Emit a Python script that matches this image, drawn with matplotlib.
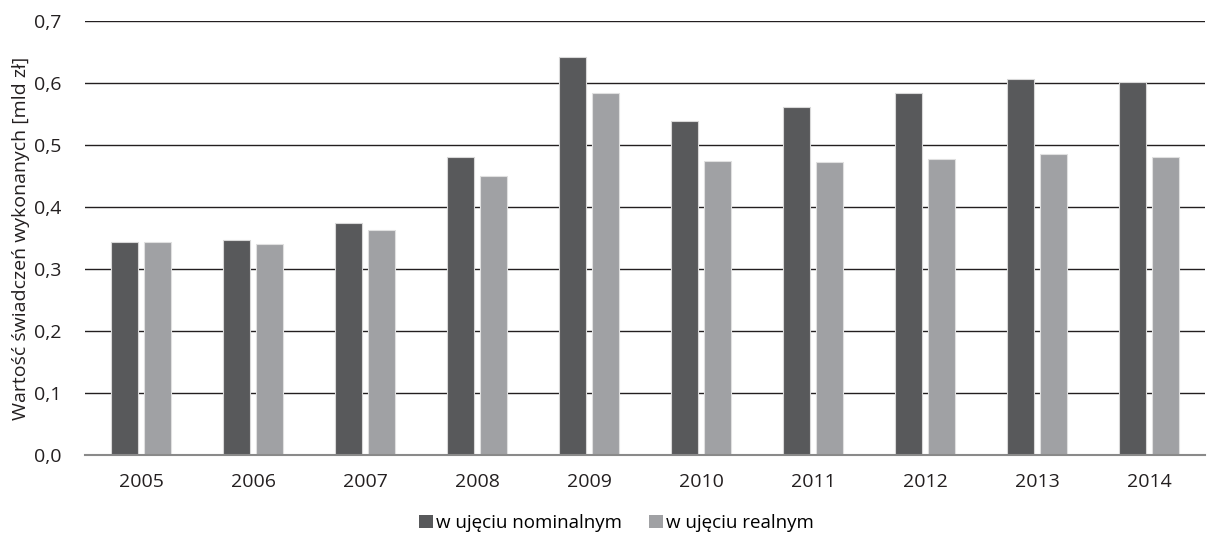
import numpy as np
import matplotlib
matplotlib.use("Agg")
import matplotlib.pyplot as plt
from matplotlib.ticker import FuncFormatter

plt.rcParams['font.family'] = ['Open Sans', 'DejaVu Sans']

years = ['2005', '2006', '2007', '2008', '2009', '2010', '2011', '2012', '2013', '2014']
nominal = [0.343, 0.347, 0.374, 0.481, 0.642, 0.539, 0.561, 0.584, 0.606, 0.601]
real = [0.343, 0.340, 0.363, 0.450, 0.584, 0.475, 0.472, 0.477, 0.486, 0.481]
labels = ['w ujęciu nominalnym', 'w ujęciu realnym']
colors = ['#58595b', '#a0a1a4']

fig = plt.figure(figsize=(12.21, 5.39), dpi=100)
ax = fig.add_axes([85 / 1221, 1 - 455 / 539, 1120 / 1221, 434 / 539])

x = np.arange(len(years))
w = 0.235
ax.bar(x - 0.148, nominal, w, color=colors[0], edgecolor='#d8d8d8', linewidth=0.8,
       label=labels[0], zorder=3)
ax.bar(x + 0.148, real, w, color=colors[1], edgecolor='#e0e0e0', linewidth=0.8,
       label=labels[1], zorder=3)

ax.set_xlim(-0.5, len(years) - 0.5)
ax.set_ylim(0, 0.7)
ax.set_yticks(np.arange(0, 0.71, 0.1))
ax.yaxis.set_major_formatter(FuncFormatter(lambda v, p: f'{v:.1f}'.replace('.', ',')))
ax.set_xticks(x)
ax.set_xticklabels(years)
ax.yaxis.grid(True, color='#231f20', linewidth=1.0, zorder=0)
for s in ['top', 'right', 'left']:
    ax.spines[s].set_visible(False)
ax.spines['bottom'].set_color('#8a8a8a')
ax.spines['bottom'].set_linewidth(1.5)
ax.spines['bottom'].set_zorder(4)
ax.tick_params(axis='both', length=0, labelsize=14, colors='#231f20')
ax.tick_params(axis='x', pad=13)
ax.tick_params(axis='y', pad=17)

ax.set_ylabel('Wartość świadczeń wykonanych [mld zł]', fontsize=14, color='#231f20', labelpad=3)

leg = fig.legend(loc='center', bbox_to_anchor=(0.5 + 6 / 1221, 1 - 523 / 539), ncol=2,
                 frameon=False, fontsize=13.5, handlelength=0.75, handleheight=0.75,
                 handletextpad=0.2, columnspacing=1.4)
for h in leg.legend_handles:
    h.set_edgecolor('none')

fig.savefig('out.png', dpi=100)
